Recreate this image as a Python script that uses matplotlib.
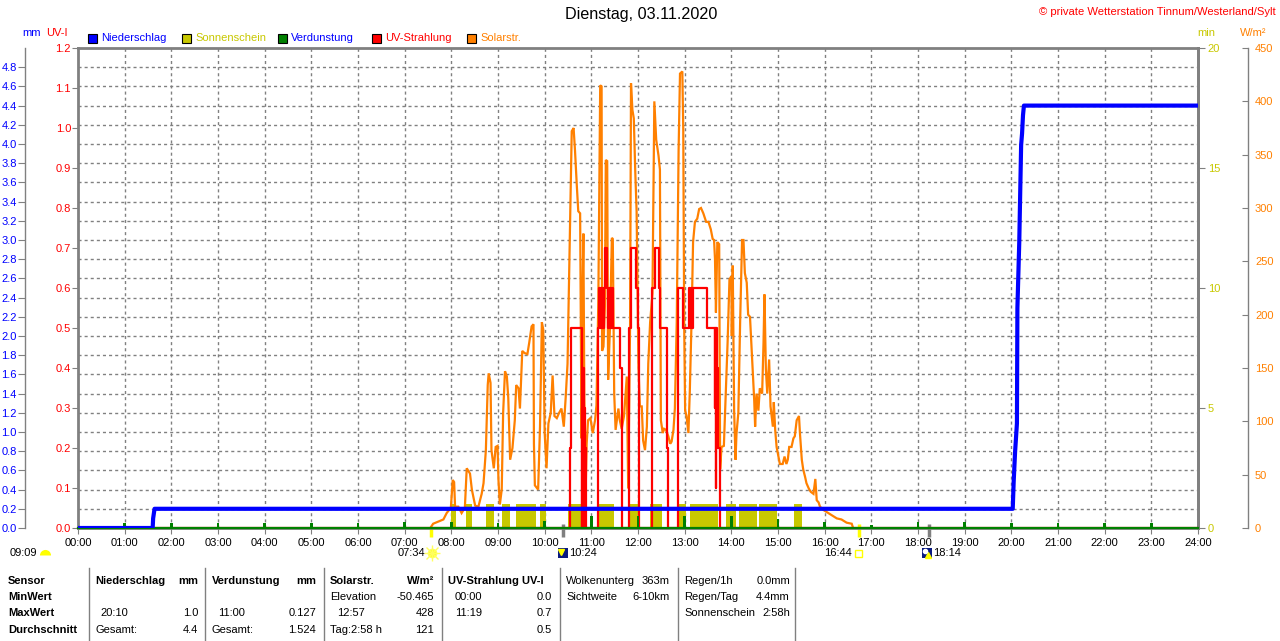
import numpy as np
import matplotlib.pyplot as plt
import matplotlib.transforms as mtransforms
from matplotlib.patches import Rectangle
from matplotlib.lines import Line2D

plt.rcParams['font.family'] = ['Liberation Sans', 'DejaVu Sans']
plt.rcParams['font.size'] = 8

W, H = 1280, 641
BLUE = '#0000ff'
OLIVE = '#c8c800'
GREEN = '#008000'
RED = '#ff0000'
ORANGE = '#ff8000'
GRAY = '#808080'
NAVY = '#0a1a80'


def hm(s):
    h, m = s.split(':')
    return int(h) + int(m) / 60.0


def px(x, y):
    return x / W, 1 - y / H


# ------------------------------------------------------------
# Daten
# ------------------------------------------------------------
hours = list(range(25))
hour_labels = [f'{h:02d}:00' for h in hours]

# Niederschlag, Summe mm
rain_t = [0.0, 1.60, 1.61, 1.64, 20.03, 20.05, 20.08, 20.12, 20.13, 20.17,
          20.19, 20.21, 20.23, 20.25, 20.27, 24.0]
rain_mm = [0.0, 0.0, 0.1, 0.2, 0.2, 0.48, 0.79, 1.09, 2.29, 2.98,
           3.49, 3.99, 4.11, 4.30, 4.40, 4.40]

# Sonnenschein, min
sun_start = ['08:00', '08:19', '08:45', '09:05', '09:23', '09:54', '10:30',
             '11:09', '11:47', '12:15', '12:51', '13:07', '13:53', '14:10',
             '14:36', '15:21']
sun_end = ['08:06', '08:27', '08:55', '09:15', '09:49', '10:02', '10:54',
           '11:29', '12:00', '12:31', '13:02', '13:43', '14:06', '14:33',
           '14:59', '15:31']
sun_min = [1.0] * 16

# Verdunstung, mm je Stunde
evap_h = list(range(1, 24))
evap_mm = [0.05, 0.05, 0.05, 0.05, 0.05, 0.05, 0.06, 0.06, 0.05, 0.07,
           0.127, 0.12, 0.12, 0.12, 0.09, 0.06, 0.03, 0.06, 0.06, 0.05,
           0.05, 0.05, 0.05]

# UV-Index
uv_t = [0.0, 10.54, 10.56, 10.79, 10.81, 10.82, 10.83, 10.84, 10.85, 10.86,
        10.87, 10.88, 11.14, 11.15, 11.16, 11.18, 11.20, 11.22, 11.24, 11.26,
        11.28, 11.30, 11.33, 11.35, 11.37, 11.39, 11.41, 11.43, 11.45, 11.47,
        11.61, 11.65, 11.81, 11.84, 11.96, 11.99, 12.03, 12.29, 12.31, 12.36,
        12.46, 12.47, 12.615, 12.65, 12.86, 12.96, 13.09, 13.11, 13.13, 13.15,
        13.18, 13.47, 13.65, 13.66, 13.67, 13.68, 13.69, 13.70, 13.72, 13.76,
        24.0]
uv_v = [0.0, 0.2, 0.5, 0.0, 0.3, 0.0, 0.4, 0.1, 0.3, 0.0,
        0.2, 0.0, 0.2, 0.5, 0.6, 0.5, 0.6, 0.5, 0.6, 0.5,
        0.6, 0.7, 0.6, 0.5, 0.6, 0.5, 0.6, 0.5, 0.6, 0.5,
        0.4, 0.0, 0.5, 0.7, 0.6, 0.5, 0.0, 0.5, 0.6, 0.7,
        0.6, 0.5, 0.2, 0.0, 0.6, 0.5, 0.6, 0.5, 0.6, 0.5,
        0.6, 0.5, 0.3, 0.5, 0.1, 0.5, 0.2, 0.4, 0.2, 0.0,
        0.0]

# Solarstrahlung W/m2
sol_t = [7.55, 7.61, 7.72, 7.83, 7.90, 7.99, 8.03, 8.06, 8.08, 8.15, 8.22,
         8.29, 8.33, 8.40, 8.44, 8.51, 8.58, 8.65, 8.69, 8.74, 8.78, 8.80,
         8.84, 8.86, 8.91, 8.95, 8.99, 9.01, 9.04, 9.08, 9.11, 9.15, 9.19,
         9.22, 9.26, 9.31, 9.36, 9.39, 9.44, 9.47, 9.52, 9.57, 9.63, 9.67,
         9.72, 9.76, 9.77, 9.79, 9.86, 9.90, 9.94, 9.97, 10.00, 10.04, 10.08,
         10.13, 10.17, 10.21, 10.26, 10.31, 10.36, 10.41, 10.45, 10.49, 10.54,
         10.58, 10.62, 10.65, 10.69, 10.72, 10.76, 10.79, 10.81, 10.83, 10.85,
         10.88, 10.90, 10.93, 10.98, 11.03, 11.08, 11.11, 11.15, 11.19, 11.22,
         11.23, 11.26, 11.29, 11.31, 11.34, 11.36, 11.40, 11.44, 11.46, 11.49,
         11.52, 11.58, 11.61, 11.65, 11.70, 11.76, 11.79, 11.83, 11.85, 11.88,
         11.91, 11.94, 11.97, 12.01, 12.04, 12.08, 12.11, 12.15, 12.19, 12.22,
         12.26, 12.31, 12.35, 12.39, 12.44, 12.47, 12.49, 12.53, 12.56, 12.60,
         12.65, 12.69, 12.72, 12.76, 12.79, 12.83, 12.87, 12.90, 12.95, 12.97,
         12.99, 13.01, 13.04, 13.08, 13.11, 13.15, 13.18, 13.22, 13.27, 13.31,
         13.35, 13.40, 13.46, 13.51, 13.56, 13.60, 13.63, 13.65, 13.67, 13.70,
         13.74, 13.76, 13.79, 13.84, 13.89, 13.92, 13.96, 14.00, 14.01, 14.03,
         14.06, 14.09, 14.11, 14.15, 14.19, 14.23, 14.26, 14.29, 14.33, 14.36,
         14.40, 14.44, 14.49, 14.51, 14.54, 14.58, 14.61, 14.66, 14.69, 14.71,
         14.74, 14.77, 14.81, 14.84, 14.89, 14.91, 14.94, 14.97, 15.01, 15.04,
         15.10, 15.14, 15.18, 15.21, 15.24, 15.29, 15.33, 15.36, 15.40, 15.45,
         15.47, 15.51, 15.54, 15.58, 15.61, 15.66, 15.70, 15.76, 15.80, 15.83,
         15.87, 15.90, 15.97, 16.08, 16.19, 16.26, 16.36, 16.47, 16.58, 16.61]
sol_w = [0, 4, 6, 8, 14, 19, 45, 43, 20, 20, 14,
         19, 56, 51, 36, 21, 20, 32, 42, 73, 134, 145,
         136, 73, 56, 76, 77, 45, 22, 36, 108, 147, 142,
         122, 64, 75, 101, 134, 131, 112, 166, 164, 163, 174,
         189, 191, 79, 40, 36, 95, 193, 186, 89, 56, 98,
         108, 143, 105, 103, 108, 112, 95, 122, 154, 275,
         372, 375, 354, 320, 297, 295, 84, 215, 276, 120,
         39, 79, 101, 103, 89, 101, 115, 213, 415, 414,
         166, 170, 207, 345, 344, 139, 189, 272, 271, 126,
         92, 112, 101, 93, 105, 142, 37, 189, 417, 392,
         384, 336, 297, 151, 114, 114, 82, 73, 95, 154,
         193, 220, 400, 364, 349, 336, 101, 89, 93, 92,
         86, 79, 81, 92, 112, 193, 354, 426, 428, 373,
         189, 110, 105, 89, 128, 199, 268, 287, 290, 299,
         300, 295, 287, 287, 280, 271, 270, 252, 202, 268,
         266, 55, 76, 77, 139, 174, 233, 236, 180, 246,
         110, 64, 88, 108, 196, 270, 270, 239, 230, 200,
         198, 163, 120, 95, 126, 110, 131, 126, 174, 219,
         149, 126, 158, 114, 95, 118, 92, 76, 67, 60,
         60, 67, 60, 64, 76, 76, 84, 86, 101, 105,
         89, 64, 55, 48, 42, 37, 34, 32, 46, 26,
         24, 20, 17, 14, 11, 9, 8, 5, 4, 0]

# Astronomische Ereignisse unter der Zeitachse
sunrise, sunset = '07:34', '16:44'
moon_a, moon_b = '10:24', '18:14'
extra_time = '09:09'

# Tabelle
table_rows = ['Sensor', 'MinWert', 'MaxWert', 'Durchschnitt']
row_y = [581, 597, 613, 630]

# ------------------------------------------------------------
fig = plt.figure(figsize=(12.8, 6.41), dpi=100)
x0, x1, ytop, ybot = 78, 1198, 48, 528
ax = fig.add_axes([x0 / W, 1 - ybot / H, (x1 - x0) / W, (ybot - ytop) / H])
ax.set_xlim(0, 24)
ax.set_ylim(0, 1.2)

# Gitter
for h in hours[1:-1]:
    ax.axvline(h, color=GRAY, lw=1, ls=(0, (2.2, 2.2)), zorder=0)
for k in range(1, 25):
    ax.axhline(k * 0.2 * 1.2 / 5, color=GRAY, lw=1, ls=(0, (2.2, 2.2)), zorder=0)

for s in ax.spines.values():
    s.set_color(GRAY)
    s.set_linewidth(2)
ax.set_xticks(hours)
ax.set_xticklabels(hour_labels)
ax.set_yticks(np.round(np.arange(0, 1.21, 0.1), 1))
ax.set_yticklabels([f'{v:.1f}' for v in np.arange(0, 1.21, 0.1)])
ax.tick_params(axis='x', length=4, color=GRAY, pad=3, labelsize=8)
ax.tick_params(axis='y', length=4, color=GRAY, labelcolor=RED, pad=1, labelsize=8)

# Sonnenschein
ax_min = ax.twinx()
ax_min.set_ylim(0, 20)
starts = [hm(s) for s in sun_start]
widths = [hm(e) - hm(s) for s, e in zip(sun_start, sun_end)]
ax_min.bar(starts, sun_min, width=widths, align='edge', color=OLIVE, lw=0)
ax_min.set_yticks([0, 5, 10, 15, 20])
ax_min.tick_params(axis='y', length=5, color=GRAY, labelcolor=OLIVE, pad=2, labelsize=8)
for k, s in ax_min.spines.items():
    if k == 'right':
        s.set_color(GRAY)
        s.set_linewidth(2)
    else:
        s.set_visible(False)

# Solarstrahlung
ax_sol = ax.twinx()
ax_sol.set_ylim(0, 450)
ax_sol.plot(sol_t, sol_w, color=ORANGE, lw=1.6, solid_joinstyle='miter')
ax_sol.spines['right'].set_position(('outward', 36))
ax_sol.set_yticks(range(0, 451, 50))
ax_sol.tick_params(axis='y', direction='in', length=4, color=GRAY,
                   labelcolor=ORANGE, pad=5, labelsize=8)
for k, s in ax_sol.spines.items():
    if k == 'right':
        s.set_color(GRAY)
        s.set_linewidth(1)
    else:
        s.set_visible(False)

# UV-Strahlung
ax_uv = ax.twinx()
ax_uv.set_ylim(0, 1.2)
ax_uv.step(uv_t, uv_v, where='post', color=RED, lw=1.6)
ax_uv.axis('off')

# Niederschlag + Verdunstung
ax_mm = ax.twinx()
ax_mm.set_ylim(0, 5)
ax_mm.axhline(0, color=GREEN, lw=1.6, clip_on=False)
ax_mm.bar(evap_h, evap_mm, width=0.055, color=GREEN, lw=0)
ax_mm.plot(rain_t, rain_mm, color=BLUE, lw=3)
ax_mm.yaxis.tick_left()
ax_mm.yaxis.set_label_position('left')
ax_mm.spines['left'].set_position(('outward', 38))
ax_mm.set_yticks(np.round(np.arange(0, 4.81, 0.2), 1))
ax_mm.set_yticklabels([f'{v:.1f}' for v in np.arange(0, 4.81, 0.2)])
ax_mm.tick_params(axis='y', length=5, color=GRAY, labelcolor=BLUE, pad=1, labelsize=8)
for k, s in ax_mm.spines.items():
    if k == 'left':
        s.set_visible(True)
        s.set_color(GRAY)
        s.set_linewidth(1)
    else:
        s.set_visible(False)

# Ereignismarken unter der Achse
tr = mtransforms.blended_transform_factory(ax.transData, ax.transAxes)
for t, c, top in [(sunrise, '#ffff00', 0.0), (sunset, '#ffff00', 0.008),
                  (moon_a, GRAY, 0.008), (moon_b, GRAY, 0.008)]:
    ax.plot([hm(t), hm(t)], [top, -0.019], color=c, lw=2.5, transform=tr,
            clip_on=False, solid_capstyle='butt')

# Titel, Quelle
fig.text(*px(641, 15), 'Dienstag, 03.11.2020', ha='center', va='center', fontsize=11.6)
fig.text(*px(1276, 12), '\u00a9 private Wetterstation Tinnum/Westerland/Sylt',
         ha='right', va='center', color=RED, fontsize=8.1)

# Achsentitel
fig.text(*px(22, 33), 'mm', color=BLUE, va='center', fontsize=8)
fig.text(*px(46, 33), 'UV-I', color=RED, va='center', fontsize=8)
fig.text(*px(1197, 33), 'min', color=OLIVE, va='center', fontsize=8)
fig.text(*px(1240, 33), 'W/m\u00b2', color=ORANGE, va='center', fontsize=8)

# Legende
legend = [('Niederschlag', BLUE, BLUE, 88), ('Sonnenschein', OLIVE, OLIVE, 182),
          ('Verdunstung', GREEN, BLUE, 278), ('UV-Strahlung', RED, RED, 372),
          ('Solarstr.', ORANGE, ORANGE, 467)]
for name, box, txt, lx in legend:
    fig.add_artist(Rectangle(px(lx, 43), 9 / W, 9 / H, transform=fig.transFigure,
                             facecolor=box, edgecolor='black', lw=0.8))
    fig.text(*px(lx + 13, 38), name, color=txt, va='center', fontsize=8)

# Zeiten und Symbole unter der Achse
ty = 553
fig.text(*px(10, ty), extra_time, va='center', fontsize=8)
fig.add_artist(Line2D([45 / W], [1 - 555 / H], transform=fig.transFigure, marker='o',
                      ms=8, fillstyle='top', markerfacecolor='#ffff00',
                      markerfacecoloralt='none', markeredgecolor='none'))
fig.text(*px(425, ty), sunrise, ha='right', va='center', fontsize=8)
for m, ms in [('o', 6), ('+', 11), ('x', 9)]:
    fig.add_artist(Line2D([432 / W], [1 - ty / H], transform=fig.transFigure, marker=m,
                          ms=ms, color='#ffff20', markeredgecolor='#ffff60', mew=1))
fig.add_artist(Rectangle(px(558, 558), 10 / W, 10 / H, transform=fig.transFigure,
                         facecolor=NAVY, lw=0))
fig.add_artist(Line2D([561 / W], [1 - 552 / H], transform=fig.transFigure, marker='v',
                      ms=4, color='#ffff00', lw=0))
fig.text(*px(569, ty), moon_a, va='center', fontsize=8)
fig.text(*px(852, ty), sunset, ha='right', va='center', fontsize=8)
fig.add_artist(Rectangle(px(855, 557), 7 / W, 7 / H, transform=fig.transFigure,
                         facecolor='none', edgecolor='#ffff00', lw=1))
fig.add_artist(Rectangle(px(922, 558), 10 / W, 10 / H, transform=fig.transFigure,
                         facecolor=NAVY, lw=0))
fig.add_artist(Line2D([928 / W], [1 - 555 / H], transform=fig.transFigure, marker='^',
                      ms=4, color='#ffff00', lw=0))
fig.add_artist(Line2D([924.5 / W], [1 - 550.5 / H], transform=fig.transFigure, marker='o',
                      ms=3, color='white', lw=0))
fig.text(*px(933, ty), moon_b, va='center', fontsize=8)

# Tabelle
for name, yy in zip(table_rows, row_y):
    fig.text(*px(8, yy), name, va='center', fontsize=8, fontweight='bold')
for sx in [89, 205, 324, 442, 560, 678, 795]:
    fig.add_artist(Line2D([sx / W, sx / W], [1 - 568 / H, 0], transform=fig.transFigure,
                          color=GRAY, lw=1))

cells = [
    # (x, y, text, ha, bold)
    (95, 581, 'Niederschlag', 'left', True), (198, 581, 'mm', 'right', True),
    (100, 613, '20:10', 'left', False), (198, 613, '1.0', 'right', False),
    (95, 630, 'Gesamt:', 'left', False), (198, 630, '4.4', 'right', False),
    (212, 581, 'Verdunstung', 'left', True), (316, 581, 'mm', 'right', True),
    (218, 613, '11:00', 'left', False), (316, 613, '0.127', 'right', False),
    (212, 630, 'Gesamt:', 'left', False), (316, 630, '1.524', 'right', False),
    (330, 581, 'Solarstr.', 'left', True), (434, 581, 'W/m\u00b2', 'right', True),
    (330, 597, 'Elevation', 'left', False), (434, 597, '-50.465', 'right', False),
    (337, 613, '12:57', 'left', False), (434, 613, '428', 'right', False),
    (330, 630, 'Tag:2:58 h', 'left', False), (434, 630, '121', 'right', False),
    (448, 581, 'UV-Strahlung UV-I', 'left', True),
    (455, 597, '00:00', 'left', False), (552, 597, '0.0', 'right', False),
    (455, 613, '11:19', 'left', False), (552, 613, '0.7', 'right', False),
    (552, 630, '0.5', 'right', False),
    (566, 581, 'Wolkenunterg', 'left', False), (670, 581, '363m', 'right', False),
    (566, 597, 'Sichtweite', 'left', False), (670, 597, '6-10km', 'right', False),
    (684, 581, 'Regen/1h', 'left', False), (790, 581, '0.0mm', 'right', False),
    (684, 597, 'Regen/Tag', 'left', False), (790, 597, '4.4mm', 'right', False),
    (684, 613, 'Sonnenschein', 'left', False), (790, 613, '2:58h', 'right', False),
]
for cx, cy, s, ha, bold in cells:
    fig.text(*px(cx, cy), s, ha=ha, va='center', fontsize=8,
             fontweight='bold' if bold else 'normal')

fig.savefig('out.png', dpi=100)
